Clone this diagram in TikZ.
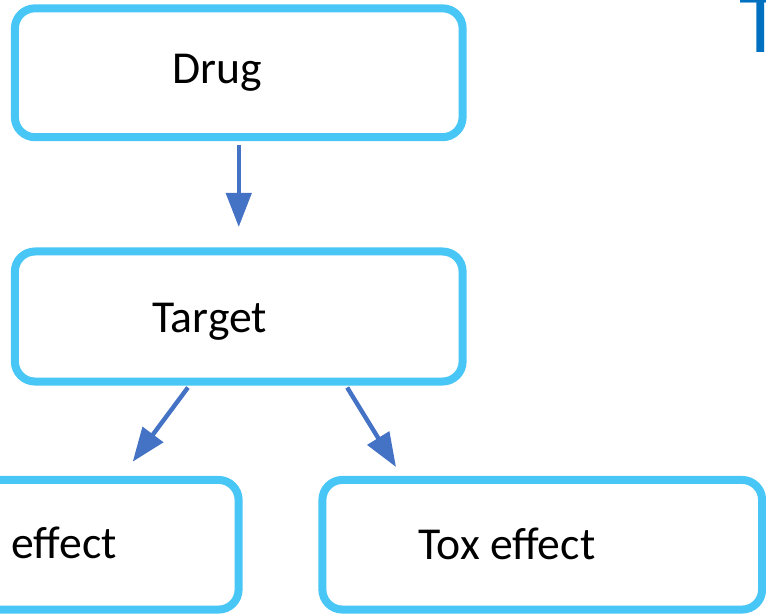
\documentclass[tikz,border=0pt]{standalone}
\usepackage{fontspec}
\setmainfont{Carlito}
\usetikzlibrary{arrows.meta}
\definecolor{boxblue}{HTML}{48C6F5}
\definecolor{arrblue}{HTML}{4472C4}
\definecolor{titleblue}{HTML}{0070C0}
\tikzset{bx/.append style={draw=boxblue, line width=0.2cm, rounded corners=0.5cm, fill=white, minimum width=11.19cm, minimum height=3.22cm}}
\tikzset{lb/.append style={font=\fontsize{32.5}{39}\selectfont, inner sep=0pt, anchor=base}}
\tikzset{ar/.append style={draw=arrblue, line width=0.11cm, -{Triangle[length=0.85cm,width=0.625cm]}}}

\begin{document}
\begin{tikzpicture}[x=0.025cm,y=-0.025cm]
                \useasboundingbox (0,0) rectangle (766,613);
                \clip (0,0) rectangle (766,613);
                % boxes
                \node[bx] (drug) at (238.75,72.75) {};
                \node[bx, minimum height=3.25cm] (target) at (238.75,316.5) {};
                \node[bx, minimum width=10.99cm, minimum height=3.24cm] (eff) at (18.75,544.75) {};
                \node[bx, minimum width=10.99cm, minimum height=3.24cm] (tox) at (542.25,544.75) {};
                % texts
                \node[lb] (drugtxt) at (217,83) {Drug};
                \node[lb] (targettxt) at (209.5,332) {Target};
                \node[lb] (efftxt) at (64,558) {effect};
                \node[lb] (toxtxt) at (507,559) {Tox effect};
                \node[lb, font=\fontsize{62}{70}\selectfont, text=titleblue] (ttl) at (760.5,52) {T};
                % arrows
                \coordinate (tip1) at (238.75,227);
                \coordinate (tip2) at (132.7,461.7);
                \coordinate (tip3) at (396,467);
                \path ([yshift=-0.1cm]drug.south) edge[ar] (tip1);
                \path ([xshift=-1.27cm,yshift=-0.05cm]target.south) edge[ar] (tip2);
                \path ([xshift=2.71cm,yshift=-0.05cm]target.south) edge[ar] (tip3);
            \end{tikzpicture}
\end{document}
